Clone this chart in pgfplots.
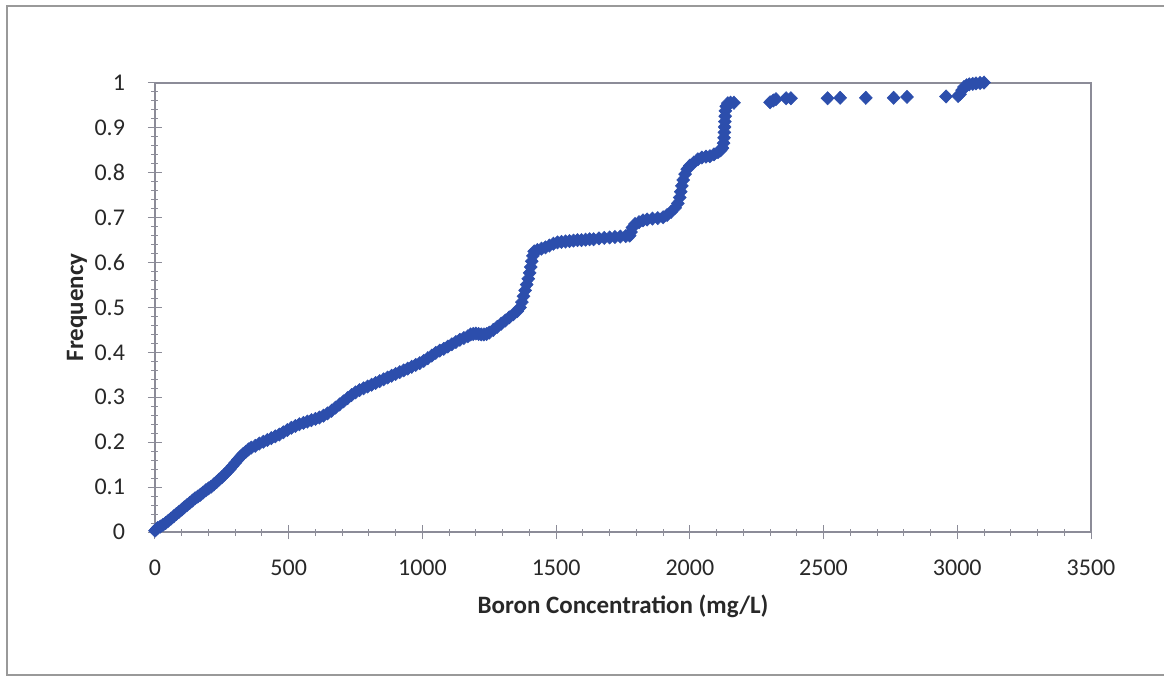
\documentclass[border=0pt]{standalone}
\usepackage{pgfplots}
\pgfplotsset{compat=1.18}
\usepackage{fontspec}
\setmainfont{Carlito}
\definecolor{markcol}{RGB}{44,78,172}
\definecolor{axcol}{RGB}{140,140,152}
\definecolor{txtcol}{RGB}{40,40,40}
\begin{document}
\begin{tikzpicture}
\begin{axis}[
  name=a,
  scale only axis,
  width=468bp, height=224.5bp,
  xmin=0, xmax=3500, ymin=0, ymax=1,
  clip=false,
  axis line style={axcol, line width=0.6bp},
  xtick={0,500,1000,1500,2000,2500,3000,3500},
  ytick={0,0.1,0.2,0.3,0.4,0.5,0.6,0.7,0.8,0.9,1},
  yticklabels={0,0.1,0.2,0.3,0.4,0.5,0.6,0.7,0.8,0.9,1},
  minor x tick num=4, minor y tick num=4,
  tick align=center,
  major tick length=7bp, minor tick length=3.5bp,
  tick style={axcol, line width=0.5bp},
  xtick pos=bottom, ytick pos=left,
  /pgf/number format/1000 sep={},
  /pgf/number format/assume math mode=true,
  tick label style={font=\fontsize{12bp}{14bp}\selectfont, text=txtcol},
  xticklabel style={yshift=-7bp},
  yticklabel style={xshift=-8bp},
  xlabel={Boron Concentration (mg/L)},
  ylabel={Frequency},
  every axis x label/.style={at={(axis description cs:0.5,-0.165)}, anchor=center, font=\bfseries\fontsize{12.5bp}{14bp}\selectfont, text=txtcol},
  every axis y label/.style={at={(axis description cs:-0.0833,0.5)}, anchor=center, rotate=90, font=\bfseries\fontsize{12.5bp}{14bp}\selectfont, text=txtcol},
]
\addplot[only marks, mark=diamond*, mark size=3.3bp,
  mark options={xscale=1.3, draw=markcol, fill=markcol, line width=0.3bp}]
coordinates {
(0,0.003)(5,0.006)(10,0.009)(20,0.012)(30,0.016)(40,0.020)(50,0.025)(60,0.030)(70,0.035)(80,0.040)
(90,0.045)(100,0.050)(110,0.055)(120,0.060)(130,0.065)(140,0.070)(150,0.075)(160,0.079)(170,0.083)(180,0.088)
(190,0.093)(200,0.097)(210,0.101)(220,0.106)(230,0.111)(240,0.117)(250,0.122)(260,0.128)(270,0.134)(280,0.140)
(290,0.147)(300,0.154)(310,0.161)(320,0.168)(330,0.174)(340,0.179)(350,0.184)(360,0.188)(375,0.192)(390,0.197)
(405,0.201)(420,0.205)(435,0.209)(450,0.213)(465,0.217)(480,0.222)(495,0.227)(510,0.232)(525,0.236)(540,0.240)
(555,0.243)(570,0.246)(585,0.249)(600,0.252)(615,0.255)(630,0.259)(645,0.264)(660,0.270)(675,0.277)(690,0.284)
(705,0.291)(720,0.298)(735,0.305)(750,0.311)(765,0.316)(780,0.320)(795,0.324)(810,0.328)(825,0.332)(840,0.336)
(855,0.340)(870,0.344)(885,0.348)(900,0.352)(915,0.356)(930,0.360)(945,0.364)(960,0.368)(975,0.372)(990,0.376)
(1005,0.381)(1020,0.387)(1035,0.393)(1050,0.399)(1065,0.404)(1080,0.408)(1095,0.413)(1110,0.418)(1125,0.423)(1140,0.428)
(1155,0.432)(1170,0.436)(1180,0.440)(1190,0.441)(1200,0.442)(1210,0.441)(1220,0.440)(1230,0.440)(1240,0.441)(1250,0.444)
(1265,0.450)(1280,0.457)(1295,0.464)(1310,0.471)(1325,0.478)(1340,0.485)(1355,0.492)(1365,0.500)(1372,0.512)(1378,0.525)
(1384,0.538)(1390,0.551)(1396,0.564)(1401,0.577)(1405,0.590)(1409,0.603)(1413,0.615)(1418,0.625)(1430,0.628)(1445,0.631)
(1460,0.634)(1475,0.638)(1490,0.642)(1505,0.645)(1520,0.646)(1535,0.647)(1550,0.648)(1565,0.649)(1580,0.650)(1595,0.650)
(1610,0.651)(1625,0.652)(1640,0.652)(1660,0.654)(1680,0.655)(1700,0.656)(1720,0.657)(1740,0.658)(1760,0.659)(1775,0.660)
(1780,0.668)(1785,0.678)(1795,0.686)(1810,0.690)(1825,0.694)(1840,0.696)(1860,0.698)(1880,0.699)(1900,0.701)(1915,0.706)
(1930,0.713)(1945,0.722)(1955,0.732)(1962,0.745)(1966,0.758)(1970,0.771)(1975,0.784)(1982,0.797)(1990,0.808)(2000,0.816)
(2015,0.823)(2030,0.830)(2045,0.834)(2060,0.836)(2075,0.837)(2090,0.841)(2105,0.846)(2115,0.850)(2122,0.855)(2126,0.866)
(2128,0.878)(2129,0.890)(2130,0.902)(2131,0.914)(2132,0.926)(2133,0.938)(2136,0.948)(2142,0.955)(2152,0.956)(2165,0.956)
(2300,0.957)(2312,0.961)(2322,0.964)(2360,0.966)(2378,0.966)(2515,0.966)(2562,0.967)(2658,0.967)(2762,0.967)(2812,0.969)
(2958,0.970)(3003,0.971)(3010,0.975)(3018,0.984)(3025,0.991)(3035,0.995)(3045,0.997)(3058,0.998)(3070,0.999)(3085,1.000)
(3100,1.001)
};
\end{axis}
\path[use as bounding box] ([xshift=-77.5bp,yshift=-72bp]a.south west) rectangle ([xshift=36.5bp,yshift=41.5bp]a.north east);
\draw[gray!80, line width=0.8bp] ([xshift=-74bp,yshift=-71.5bp]a.south west) rectangle ([xshift=40bp,yshift=38.5bp]a.north east);
\end{tikzpicture}
\end{document}
